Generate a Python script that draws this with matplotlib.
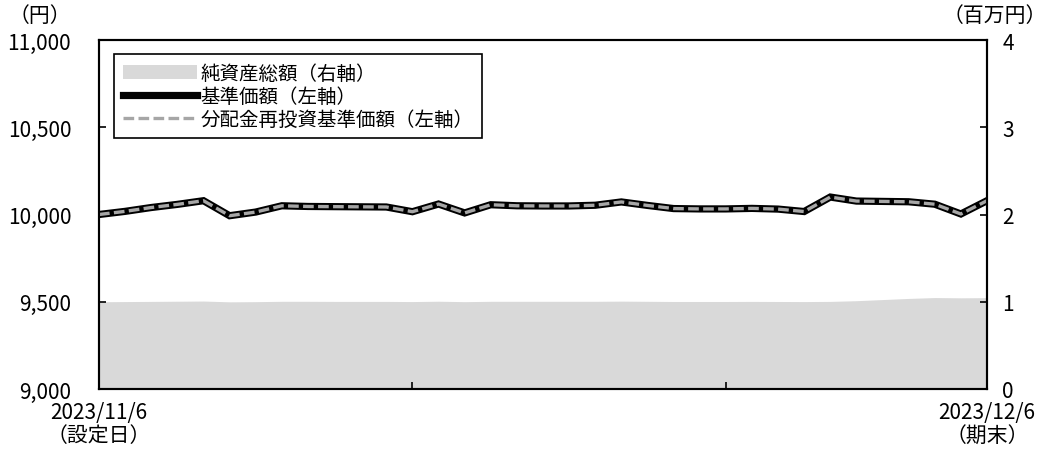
import matplotlib
matplotlib.use('Agg')
import matplotlib.pyplot as plt
from matplotlib.lines import Line2D
from matplotlib.patches import Patch

plt.rcParams['font.family'] = ['Noto Sans CJK JP', 'DejaVu Sans']

# data (35 points, 2023/11/6 .. 2023/12/6)
nav = [10000, 10018, 10040, 10058, 10079, 9993, 10014, 10050, 10046, 10045,
       10044, 10043, 10016, 10060, 10009, 10056, 10050, 10049, 10049, 10053,
       10072, 10052, 10034, 10032, 10032, 10035, 10031, 10017, 10100, 10077,
       10075, 10073, 10059, 10003, 10079]
nav_reinvest = list(nav)
net_assets = [1.000, 1.002, 1.004, 1.006, 1.008, 0.999, 1.001, 1.005, 1.005, 1.004,
              1.004, 1.004, 1.002, 1.006, 1.001, 1.005, 1.005, 1.005, 1.005, 1.005,
              1.007, 1.005, 1.003, 1.003, 1.003, 1.004, 1.003, 1.002, 1.004, 1.012,
              1.025, 1.038, 1.048, 1.045, 1.047]
x = list(range(len(nav)))
xtick_pos = [0, 12, 24, 34]
xtick_labels = ['2023/11/6\n（設定日）', '', '', '2023/12/6\n（期末）']
left_ticks = [9000, 9500, 10000, 10500, 11000]
right_ticks = [0, 1, 2, 3, 4]

AREA = '#d9d9d9'
DASH = '#a6a6a6'

fig = plt.figure(figsize=(10.5, 4.56), dpi=100)
ax = fig.add_axes([99 / 1050, 1 - 390 / 456, 888 / 1050, 349 / 456])
ax2 = ax.twinx()

ax2.fill_between(x, net_assets, 0, color=AREA, lw=0)
ax2.set_ylim(0, 4)
ax2.set_yticks(right_ticks)

ax.plot(x, nav, color='black', lw=5.2, solid_joinstyle='miter')
ax.plot(x, nav_reinvest, color=DASH, lw=2.4, dashes=(3.2, 1.3))
ax.set_ylim(9000, 11000)
ax.set_yticks(left_ticks)
ax.set_yticklabels([f'{v:,}' for v in left_ticks])
ax.set_xlim(0, 34)
ax.set_xticks(xtick_pos)
ax.set_xticklabels(xtick_labels, linespacing=1.05)

ax.set_zorder(ax2.get_zorder() + 1)
ax.patch.set_visible(False)

for a in (ax, ax2):
    a.tick_params(direction='in', length=5, width=1.2, labelsize=15)
    for s in a.spines.values():
        s.set_linewidth(1.5)
ax.tick_params(axis='y', pad=20)
ax.tick_params(axis='x', pad=9)
ax2.tick_params(axis='y', pad=11)

fig.text(40 / 1050, 1 - 16 / 456, '（円）', fontsize=15, ha='center', va='center')
fig.text(1047 / 1050, 1 - 16 / 456, '（百万円）', fontsize=15, ha='right', va='center')

handles = [
    Patch(facecolor=AREA, edgecolor='none'),
    Line2D([], [], color='black', lw=5.2),
    Line2D([], [], color=DASH, lw=2.4, dashes=(3.2, 1.3)),
]
labels = ['純資産総額（右軸）', '基準価額（左軸）', '分配金再投資基準価額（左軸）']
leg = ax.legend(handles, labels, loc='upper left',
                bbox_to_anchor=(114 / 1050, 1 - 55 / 456),
                bbox_transform=fig.transFigure, borderaxespad=0,
                fontsize=14, handlelength=3.8, handletextpad=0.2,
                labelspacing=0.1, borderpad=0.45, fancybox=False,
                framealpha=1, edgecolor='black')
leg.get_frame().set_linewidth(1.2)

fig.savefig('out.png', dpi=100)
